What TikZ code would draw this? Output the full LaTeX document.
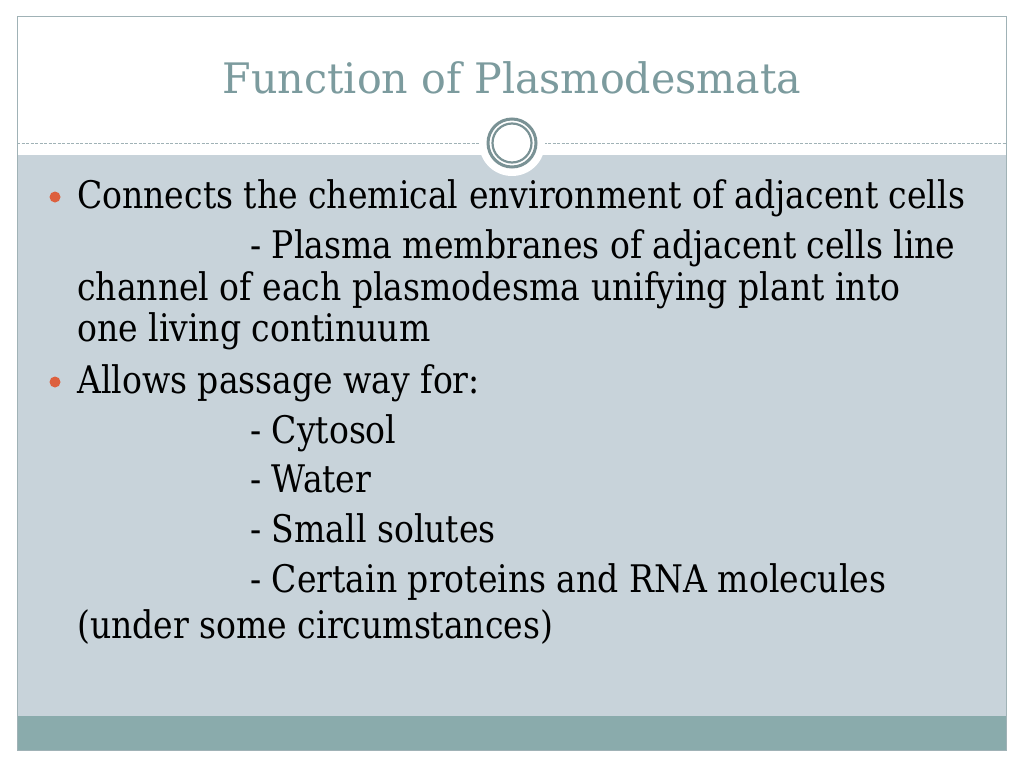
\documentclass[tikz,border=0pt]{standalone}
\usepackage{fontspec}
\setmainfont{DejaVu Serif}
\newfontfamily\bodyfont[FakeStretch=0.87]{DejaVu Serif}
\newfontfamily\titlefont[FakeStretch=0.98]{DejaVu Serif}
\definecolor{bodybg}{RGB}{200,211,218}
\definecolor{band}{RGB}{138,171,172}
\definecolor{titlec}{RGB}{124,155,158}
\definecolor{bulletc}{RGB}{221,96,62}
\definecolor{framec}{RGB}{160,178,182}
\definecolor{ringc}{RGB}{122,146,149}
\begin{document}
\begin{tikzpicture}[x=1pt,y=-1pt,
  txt/.style={anchor=base west,inner sep=0pt,font=\bodyfont\fontsize{38}{44}\selectfont,text=black},
  bul/.style={circle,fill=bulletc,inner sep=0pt,minimum size=11pt}]
\useasboundingbox (0,0) rectangle (1024,768);
\fill[white] (0,0) rectangle (1024,768);
% body
\fill[bodybg] (17,155) rectangle (1006,716);
\fill[band] (17,716) rectangle (1006,750);
% frame
\draw[framec,line width=1pt] (17,17) rectangle (1006,750);
% dotted divider
\draw[framec,line width=1pt,dash pattern=on 3pt off 1.5pt] (17,143) -- (1006,143);
% emblem
\fill[white] (512,143) circle (33);
\draw[ringc,line width=3pt] (512,143) circle (24);
\draw[ringc,line width=2.2pt] (512,143) circle (19.5);
% title
\node[anchor=base,inner sep=0pt,font=\titlefont\fontsize{42}{48}\selectfont,text=titlec] (title) at (512,93) {Function of Plasmodesmata};
% bullets
\node[bul] (b1) at (55,197) {};
\node[bul] (b2) at (55,382) {};
\node[txt] (l1) at (77,208) {Connects the chemical environment of adjacent cells};
\node[txt] (l2) at (250,258) {- Plasma membranes of adjacent cells line};
\node[txt] (l3) at (77,300) {channel of each plasmodesma unifying plant into};
\node[txt] (l4) at (77,341) {one living continuum};
\node[txt] (l5) at (77,393) {Allows passage way for:};
\node[txt] (l6) at (250,443) {- Cytosol};
\node[txt] (l7) at (250,492) {- Water};
\node[txt] (l8) at (250,542) {- Small solutes};
\node[txt] (l9) at (250,592) {- Certain proteins and RNA molecules};
\node[txt] (l10) at (77,638) {(under some circumstances)};
\end{tikzpicture}
\end{document}
